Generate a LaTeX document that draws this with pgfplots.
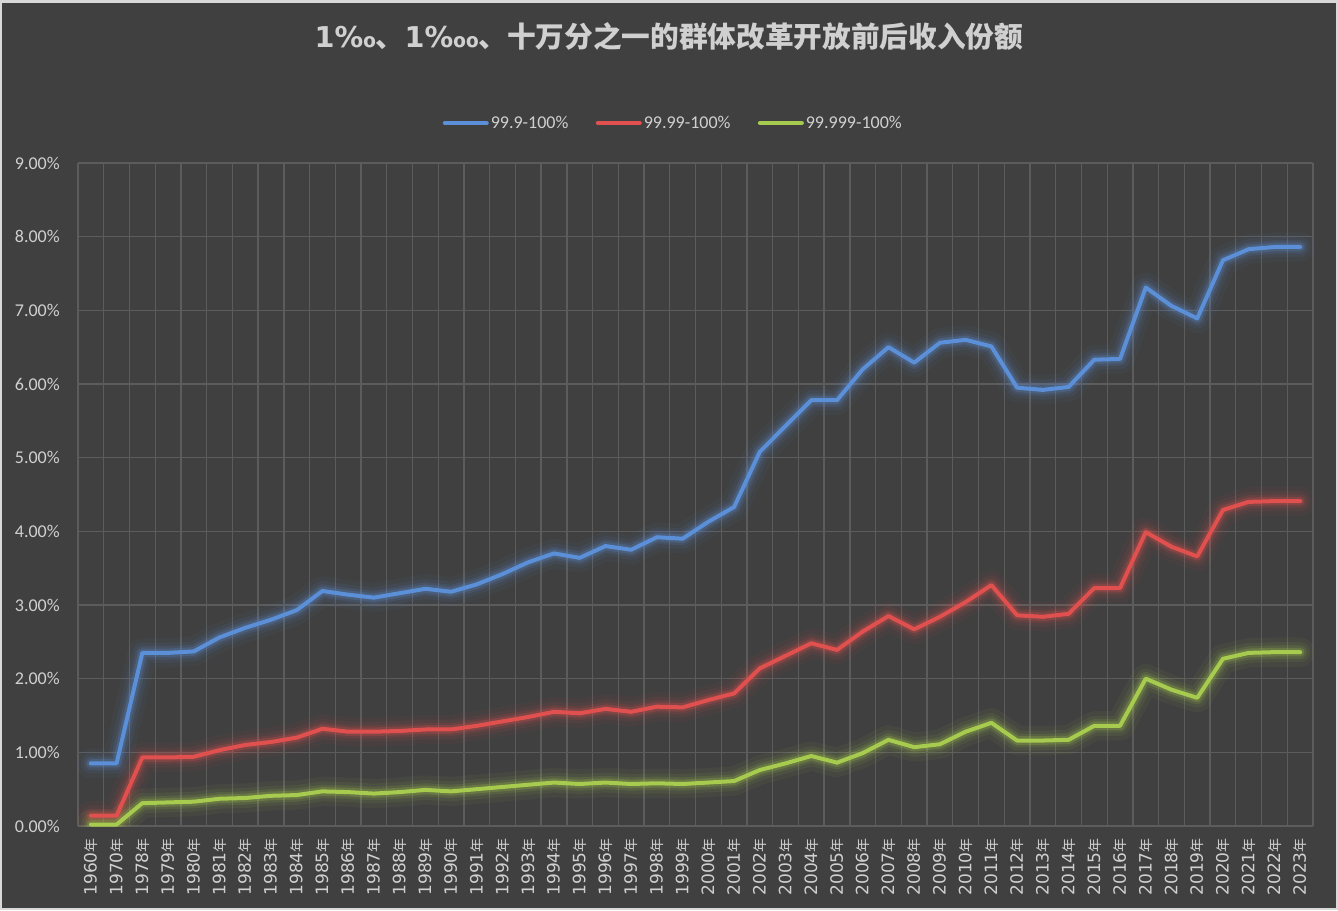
\documentclass[border=0pt]{standalone}
\usepackage{fontspec}
\setmainfont{Carlito}
\newfontfamily\cjk{Noto Sans CJK SC}
\newfontfamily\dejavu{DejaVu Sans}
\usepackage{pgfplots}
\pgfplotsset{compat=1.18}
\usepackage{pgfplotstable}
\definecolor{bg}{HTML}{404040}
\definecolor{framec}{HTML}{D9D9D9}
\definecolor{gridc}{HTML}{5C5C5C}
\definecolor{txt}{HTML}{D0D0D0}
\definecolor{cblue}{HTML}{5B8FD8}
\definecolor{cred}{HTML}{E0504E}
\definecolor{cgreen}{HTML}{A6CB4E}

\pgfplotstableread{
x blue red green
0 0.85 0.14 0.02
1 0.85 0.14 0.02
2 2.35 0.93 0.31
3 2.35 0.93 0.32
4 2.37 0.94 0.33
5 2.56 1.03 0.37
6 2.69 1.10 0.38
7 2.80 1.14 0.41
8 2.93 1.20 0.42
9 3.19 1.32 0.47
10 3.14 1.28 0.46
11 3.10 1.28 0.44
12 3.16 1.29 0.46
13 3.22 1.31 0.49
14 3.18 1.31 0.47
15 3.28 1.36 0.50
16 3.42 1.42 0.53
17 3.58 1.48 0.56
18 3.70 1.55 0.59
19 3.64 1.53 0.57
20 3.80 1.59 0.59
21 3.75 1.55 0.57
22 3.92 1.62 0.58
23 3.90 1.61 0.57
24 4.13 1.71 0.59
25 4.33 1.80 0.61
26 5.08 2.14 0.76
27 5.43 2.31 0.85
28 5.78 2.48 0.95
29 5.78 2.39 0.86
30 6.20 2.64 0.99
31 6.50 2.85 1.17
32 6.29 2.67 1.07
33 6.56 2.84 1.11
34 6.60 3.04 1.28
35 6.51 3.27 1.40
36 5.95 2.86 1.16
37 5.92 2.84 1.16
38 5.96 2.88 1.17
39 6.33 3.23 1.36
40 6.34 3.23 1.36
41 7.31 3.99 2.00
42 7.06 3.79 1.85
43 6.89 3.66 1.74
44 7.68 4.29 2.27
45 7.83 4.40 2.35
46 7.86 4.41 2.36
47 7.86 4.41 2.36
}\data

\newcommand{\yr}[1]{{\dejavu #1}{\cjk\fontsize{10.5}{12}\selectfont 年}}

\begin{document}
\begin{tikzpicture}
\fill[framec] (0pt,0pt) rectangle (1003.5pt,682.5pt);
\fill[bg] (1.5pt,1.5pt) rectangle (1002pt,680.25pt);
\node[text=txt, font=\cjk\bfseries\fontsize{21.5}{24}\selectfont] at (501.75pt,655.5pt)
  {{\dejavu\bfseries 1‰}、{\dejavu\bfseries 1‱}、十万分之一的群体改革开放前后收入份额};
\begin{axis}[
  at={(58.5pt,63pt)}, anchor=south west,
  scale only axis, width=926.25pt, height=497.25pt,
  xmin=-0.5, xmax=47.5, ymin=0, ymax=9,
  xtick={0,...,47},
  xticklabels={\yr{1960},\yr{1970},\yr{1978},\yr{1979},\yr{1980},\yr{1981},\yr{1982},\yr{1983},\yr{1984},\yr{1985},\yr{1986},\yr{1987},\yr{1988},\yr{1989},\yr{1990},\yr{1991},\yr{1992},\yr{1993},\yr{1994},\yr{1995},\yr{1996},\yr{1997},\yr{1998},\yr{1999},\yr{2000},\yr{2001},\yr{2002},\yr{2003},\yr{2004},\yr{2005},\yr{2006},\yr{2007},\yr{2008},\yr{2009},\yr{2010},\yr{2011},\yr{2012},\yr{2013},\yr{2014},\yr{2015},\yr{2016},\yr{2017},\yr{2018},\yr{2019},\yr{2020},\yr{2021},\yr{2022},\yr{2023}},
  minor xtick={-0.5,0.5,...,47.5},
  ytick={0,...,9},
  yticklabels={0.00\%,1.00\%,2.00\%,3.00\%,4.00\%,5.00\%,6.00\%,7.00\%,8.00\%,9.00\%},
  major tick length=0pt, minor tick length=0pt,
  ymajorgrids, xminorgrids,
  major grid style={gridc, line width=1pt},
  minor grid style={gridc, line width=1pt},
  axis line style={draw=none},
  xticklabel style={rotate=90, anchor=east, text=txt, inner sep=0pt, font=\fontsize{12.75}{14}\selectfont},
  yticklabel style={text=txt, inner sep=0pt, font=\fontsize{13.5}{15}\selectfont},
  xticklabel shift=9pt, yticklabel shift=13.5pt,
  legend columns=3,
  legend style={at={(0.482,1.0603)}, anchor=center, draw=none, fill=none, text=txt,
    font=\fontsize{13.5}{15}\selectfont, inner sep=0pt,
    nodes={inner sep=1.5pt},
    /tikz/every even column/.append style={column sep=19pt}},
  legend image code/.code={\draw[#1, line width=3pt, line cap=round] (0pt,0pt) -- (31.5pt,0pt);},
  every axis plot/.append style={line join=round, line cap=round},
]
\addplot[cblue, line width=22pt, opacity=0.05, forget plot] table[x=x,y=blue]{\data};
\addplot[cblue, line width=15pt, opacity=0.08, forget plot] table[x=x,y=blue]{\data};
\addplot[cblue, line width=10pt, opacity=0.13, forget plot] table[x=x,y=blue]{\data};
\addplot[cblue, line width=6.5pt, opacity=0.22, forget plot] table[x=x,y=blue]{\data};
\addplot[cred, line width=22pt, opacity=0.05, forget plot] table[x=x,y=red]{\data};
\addplot[cred, line width=15pt, opacity=0.08, forget plot] table[x=x,y=red]{\data};
\addplot[cred, line width=10pt, opacity=0.13, forget plot] table[x=x,y=red]{\data};
\addplot[cred, line width=6.5pt, opacity=0.22, forget plot] table[x=x,y=red]{\data};
\addplot[cgreen, line width=22pt, opacity=0.05, forget plot] table[x=x,y=green]{\data};
\addplot[cgreen, line width=15pt, opacity=0.08, forget plot] table[x=x,y=green]{\data};
\addplot[cgreen, line width=10pt, opacity=0.13, forget plot] table[x=x,y=green]{\data};
\addplot[cgreen, line width=6.5pt, opacity=0.22, forget plot] table[x=x,y=green]{\data};
\addplot[cblue, line width=3pt] table[x=x,y=blue]{\data};
\addlegendentry{99.9-100\%}
\addplot[cred, line width=3pt] table[x=x,y=red]{\data};
\addlegendentry{99.99-100\%}
\addplot[cgreen, line width=3pt] table[x=x,y=green]{\data};
\addlegendentry{99.999-100\%}
\end{axis}
\end{tikzpicture}
\end{document}
